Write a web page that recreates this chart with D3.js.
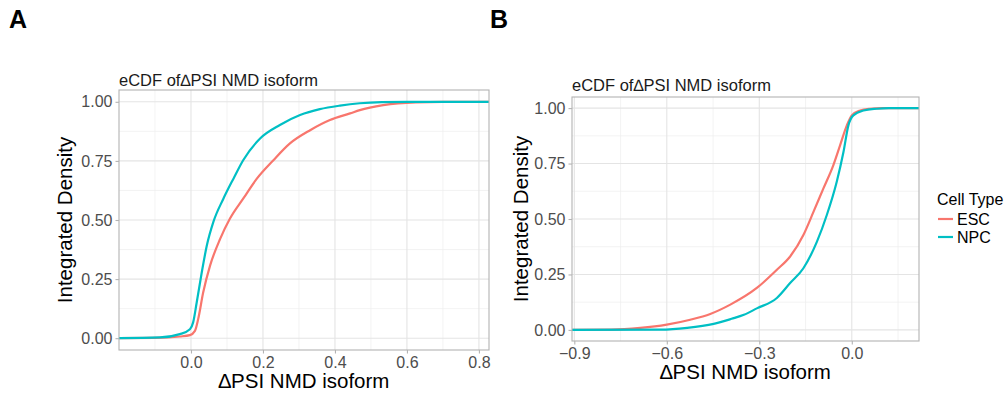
<!DOCTYPE html>
<html>
<head>
<meta charset="utf-8">
<script src="https://cdn.jsdelivr.net/npm/d3@7"></script>
<style>
  body { margin: 0; background: #fff; }
  text { font-family: "Liberation Sans", Arial, Helvetica, sans-serif; }
</style>
</head>
<body>
<div id="chart-area"></div>
<script>
// panel A data (delta PSI vs cumulative fraction)
var escA_x = [-0.2, -0.1, -0.031, -0.003, 0.011, 0.020, 0.034, 0.053, 0.081, 0.108, 0.145, 0.183, 0.229, 0.275, 0.331, 0.386, 0.442, 0.469, 0.534, 0.625, 0.70, 0.828];
var escA_y = [0, 0.001, 0.007, 0.013, 0.031, 0.081, 0.194, 0.307, 0.420, 0.505, 0.590, 0.675, 0.753, 0.824, 0.880, 0.923, 0.951, 0.965, 0.986, 0.998, 1, 1];
var npcA_x = [-0.2, -0.086, -0.031, -0.003, 0.006, 0.016, 0.030, 0.044, 0.062, 0.090, 0.118, 0.145, 0.192, 0.247, 0.303, 0.358, 0.414, 0.469, 0.53, 0.60, 0.828];
var npcA_y = [0, 0.003, 0.017, 0.038, 0.067, 0.152, 0.279, 0.392, 0.491, 0.590, 0.675, 0.753, 0.845, 0.902, 0.944, 0.969, 0.984, 0.994, 0.999, 1, 1];

// panel B data
var escB_x = [-0.9075, -0.78, -0.686, -0.6, -0.524, -0.459, -0.394, -0.308, -0.243, -0.2, -0.157, -0.124, -0.092, -0.060, -0.038, -0.016, 0, 0.027, 0.059, 0.10, 0.218];
var escB_y = [0, 0.001, 0.009, 0.024, 0.046, 0.072, 0.114, 0.189, 0.271, 0.331, 0.428, 0.533, 0.638, 0.742, 0.832, 0.922, 0.967, 0.989, 0.997, 1, 1];
var npcB_x = [-0.9075, -0.62, -0.534, -0.448, -0.39, -0.35, -0.308, -0.243, -0.2, -0.157, -0.113, -0.081, -0.049, -0.027, -0.011, 0.005, 0.038, 0.08, 0.12, 0.218];
var npcB_y = [0, 0.001, 0.009, 0.027, 0.050, 0.068, 0.097, 0.144, 0.211, 0.278, 0.398, 0.518, 0.667, 0.802, 0.922, 0.967, 0.989, 0.997, 1, 1];

var yTicks = [0, 0.25, 0.5, 0.75, 1];
var xTicksA = [0, 0.2, 0.4, 0.6, 0.8];
var xTicksB = [-0.9, -0.6, -0.3, 0.0];
var cellTypes = ["ESC", "NPC"];
var colors = ["#F8766D", "#00BFC4"];

var titleText = "eCDF of\u2206PSI NMD isoform";
var xTitle = "\u2206PSI NMD isoform";
var yTitle = "Integrated Density";

var svg = d3.select("#chart-area")
  .append("svg")
    .attr("width", 1007)
    .attr("height", 394);

svg.append("rect").attr("width", 1007).attr("height", 394).attr("fill", "#fff");

function zip(xs, ys) {
  return xs.map(function(x, i){ return { x: x, y: ys[i] }; });
}

function drawPanel(opt) {
  var w = opt.right - opt.left, h = opt.bottom - opt.top;
  var g = svg.append("g").attr("transform", "translate(" + opt.left + "," + opt.top + ")");

  var x = d3.scaleLinear().domain(opt.xDomain).range([0, w]);
  var y = d3.scaleLinear().domain([-0.05, 1.05]).range([h, 0]);

  // minor grid
  g.selectAll(".xminor").data(opt.xMinor).enter().append("line")
    .attr("x1", function(d){ return x(d); }).attr("x2", function(d){ return x(d); })
    .attr("y1", 0).attr("y2", h)
    .attr("stroke", "#eeeeee").attr("stroke-width", 0.7);
  g.selectAll(".yminor").data([0.125, 0.375, 0.625, 0.875]).enter().append("line")
    .attr("y1", function(d){ return y(d); }).attr("y2", function(d){ return y(d); })
    .attr("x1", 0).attr("x2", w)
    .attr("stroke", "#eeeeee").attr("stroke-width", 0.7);

  // major grid
  g.selectAll(".xmajor").data(opt.xTicks).enter().append("line")
    .attr("x1", function(d){ return x(d); }).attr("x2", function(d){ return x(d); })
    .attr("y1", 0).attr("y2", h)
    .attr("stroke", "#e4e4e4").attr("stroke-width", 1.1);
  g.selectAll(".ymajor").data(yTicks).enter().append("line")
    .attr("y1", function(d){ return y(d); }).attr("y2", function(d){ return y(d); })
    .attr("x1", 0).attr("x2", w)
    .attr("stroke", "#e4e4e4").attr("stroke-width", 1.1);

  // curves
  var line = d3.line()
    .x(function(d){ return x(d.x); })
    .y(function(d){ return y(d.y); })
    .curve(d3.curveMonotoneX);

  opt.series.forEach(function(s, i){
    g.append("path")
      .datum(s)
      .attr("fill", "none")
      .attr("stroke", colors[i])
      .attr("stroke-width", 2.2)
      .attr("d", line);
  });

  // border
  g.append("rect").attr("width", w).attr("height", h)
    .attr("fill", "none").attr("stroke", "#b3b3b3").attr("stroke-width", 1.1);

  // axes
  var xAxis = d3.axisBottom(x).tickValues(opt.xTicks).tickSize(3.5).tickPadding(3)
    .tickFormat(d3.format(".1f"));
  var gx = g.append("g").attr("transform", "translate(0," + h + ")").call(xAxis);
  var yAxis = d3.axisLeft(y).tickValues(yTicks).tickSize(3.5).tickPadding(3)
    .tickFormat(d3.format(".2f"));
  var gy = g.append("g").call(yAxis);
  [gx, gy].forEach(function(a){
    a.select(".domain").remove();
    a.selectAll(".tick line").attr("stroke", "#b3b3b3").attr("stroke-width", 1.1);
    a.selectAll(".tick text").attr("fill", "#4d4d4d").attr("font-size", "16px")
      .style("font-family", "'Liberation Sans', Arial, sans-serif");
  });
  gx.selectAll(".tick text").text(function(d){ return d3.format(".1f")(d).replace("-", "\u2212"); });

  // titles
  g.append("text").attr("x", 0).attr("y", opt.titleY)
    .attr("font-size", "16.5px").attr("fill", "#1a1a1a").text(titleText);
  g.append("text").attr("x", w / 2).attr("y", h + opt.xTitleDy)
    .attr("text-anchor", "middle").attr("font-size", "20.5px").attr("fill", "#000").text(xTitle);
  g.append("text")
    .attr("transform", "translate(" + opt.yTitleX + "," + (h / 2) + ") rotate(-90)")
    .attr("text-anchor", "middle").attr("font-size", "20.5px").attr("fill", "#000").text(yTitle);

  svg.append("text").attr("x", opt.labelX).attr("y", 28)
    .attr("font-size", "25px").attr("font-weight", "bold").attr("fill", "#000").text(opt.label);
}

drawPanel({
  left: 119, right: 489, top: 90, bottom: 350,
  xDomain: [-0.2, 0.828],
  xTicks: xTicksA, xMinor: [-0.1, 0.1, 0.3, 0.5, 0.7],
  series: [zip(escA_x, escA_y), zip(npcA_x, npcA_y)],
  titleY: -4, xTitleDy: 38, yTitleX: -47,
  label: "A", labelX: 9
});

drawPanel({
  left: 572, right: 919, top: 97, bottom: 341,
  xDomain: [-0.9075, 0.218],
  xTicks: xTicksB, xMinor: [-0.75, -0.45, -0.15, 0.15],
  series: [zip(escB_x, escB_y), zip(npcB_x, npcB_y)],
  titleY: -6, xTitleDy: 38, yTitleX: -44,
  label: "B", labelX: 490
});

// legend
var leg = svg.append("g").attr("transform", "translate(937,0)");
leg.append("text").attr("x", 0).attr("y", 205).attr("font-size", "16px").attr("fill", "#000").text("Cell Type");
cellTypes.forEach(function(c, i){
  var yy = 219 + i * 18;
  leg.append("line").attr("x1", 1).attr("x2", 16).attr("y1", yy).attr("y2", yy)
    .attr("stroke", colors[i]).attr("stroke-width", 2.2);
  leg.append("text").attr("x", 20).attr("y", yy + 6).attr("font-size", "16px").attr("fill", "#000").text(c);
});
</script>
</body>
</html>
